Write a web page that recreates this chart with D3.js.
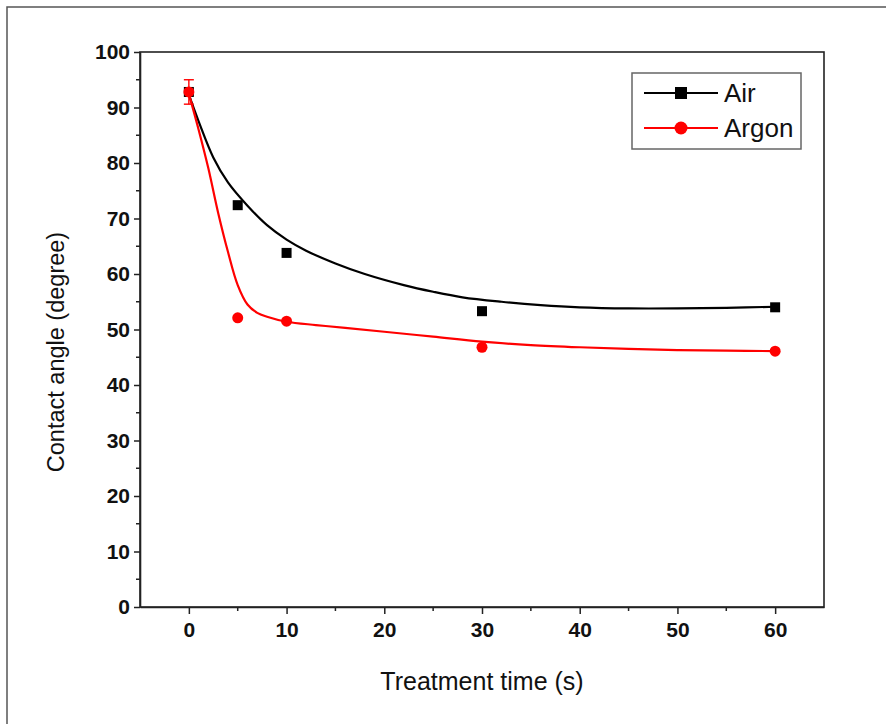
<!DOCTYPE html>
<html>
<head>
<meta charset="utf-8">
<script src="https://cdn.jsdelivr.net/npm/d3@7"></script>
<style>
  body { margin: 0; background: #fff; }
  svg { display: block; font-family: "Liberation Sans", Arial, sans-serif; }
</style>
</head>
<body>
<script>
// measured points
const times = [0, 5, 10, 30, 60]
const airAngle = [92.8, 72.4, 63.8, 53.3, 54.0]
const argonAngle = [92.8, 52.1, 51.5, 46.8, 46.1]
const argonErr = [2.2, 0, 0, 0, 0]

// fitted curves
const airFitX = [0, 1, 2.5, 4, 6, 8, 10, 12, 15, 18, 22, 25, 28, 32, 36, 40, 45, 50, 55, 60]
const airFitY = [92.3, 87.5, 81, 76.5, 72.3, 68.8, 66.2, 64.2, 61.9, 60.0, 58.0, 56.8, 55.8, 55.0, 54.4, 54.0, 53.8, 53.8, 53.9, 54.1]
const argonFitX = [0, 1, 2, 3, 4, 5, 6, 7, 8, 10, 13, 16, 20, 25, 30, 35, 40, 45, 50, 55, 60]
const argonFitY = [92.5, 86, 79, 71, 64, 58, 54.5, 53.0, 52.3, 51.4, 50.8, 50.3, 49.6, 48.7, 47.8, 47.2, 46.8, 46.5, 46.3, 46.2, 46.1]

const xTicks = [0, 10, 20, 30, 40, 50, 60]
const yTicks = [0, 10, 20, 30, 40, 50, 60, 70, 80, 90, 100]

const width = 886, height = 724
const plot = { left: 140, right: 824, top: 52, bottom: 607 }

const svg = d3.select('body').append('svg')
  .attr('width', width)
  .attr('height', height)

// outer frame (only left and top edges are visible)
svg.append('rect')
  .attr('x', 7).attr('y', 7)
  .attr('width', width + 10).attr('height', height + 10)
  .attr('fill', 'none')
  .attr('stroke', '#555')
  .attr('stroke-width', 1.5)

const x = d3.scaleLinear().domain([-5, 65]).range([plot.left, plot.right])
const y = d3.scaleLinear().domain([0, 100]).range([plot.bottom, plot.top])

// plot box
svg.append('rect')
  .attr('x', plot.left).attr('y', plot.top)
  .attr('width', plot.right - plot.left).attr('height', plot.bottom - plot.top)
  .attr('fill', 'none')
  .attr('stroke', '#222')
  .attr('stroke-width', 1.6)

// minor ticks
const tickGroup = svg.append('g').attr('stroke', '#222').attr('stroke-width', 1.5)
d3.range(5, 65, 10).forEach(v => {
  tickGroup.append('line')
    .attr('x1', x(v)).attr('x2', x(v))
    .attr('y1', plot.bottom).attr('y2', plot.bottom + 4)
})
d3.range(5, 100, 10).forEach(v => {
  tickGroup.append('line')
    .attr('x1', plot.left - 4).attr('x2', plot.left)
    .attr('y1', y(v)).attr('y2', y(v))
})

// major axes
const xAxis = svg.append('g')
  .attr('transform', `translate(0,${plot.bottom})`)
  .call(d3.axisBottom(x).tickValues(xTicks).tickSize(7).tickPadding(5).tickSizeOuter(0))
const yAxis = svg.append('g')
  .attr('transform', `translate(${plot.left},0)`)
  .call(d3.axisLeft(y).tickValues(yTicks).tickSize(6).tickPadding(4).tickSizeOuter(0))

for (const ax of [xAxis, yAxis]) {
  ax.select('.domain').attr('stroke', '#222').attr('stroke-width', 1.6)
  ax.selectAll('.tick line').attr('stroke', '#222').attr('stroke-width', 1.5)
  ax.selectAll('.tick text')
    .attr('fill', '#111')
    .style('font-size', '21px')
    .style('font-weight', 'bold')
    .style('font-family', '"Liberation Sans", Arial, sans-serif')
}
xAxis.selectAll('.tick text').attr('dy', '0.85em')

// axis titles
svg.append('text')
  .attr('x', 482)
  .attr('y', 690)
  .attr('text-anchor', 'middle')
  .attr('fill', '#111')
  .style('font-size', '25px')
  .text('Treatment time (s)')
svg.append('text')
  .attr('transform', 'translate(64,352) rotate(-90)')
  .attr('text-anchor', 'middle')
  .attr('fill', '#111')
  .style('font-size', '23.5px')
  .text('Contact angle (degree)')

// fit curves
const line = d3.line()
  .x(d => x(d[0]))
  .y(d => y(d[1]))
  .curve(d3.curveCatmullRom.alpha(0.5))

svg.append('path')
  .datum(d3.zip(airFitX, airFitY))
  .attr('d', line)
  .attr('fill', 'none')
  .attr('stroke', '#000')
  .attr('stroke-width', 2.2)
svg.append('path')
  .datum(d3.zip(argonFitX, argonFitY))
  .attr('d', line)
  .attr('fill', 'none')
  .attr('stroke', '#ff0000')
  .attr('stroke-width', 2.2)

// markers
const air = d3.zip(times, airAngle)
const argon = times.map((t, i) => ({ t: t, v: argonAngle[i], e: argonErr[i] }))

svg.append('g').selectAll('rect')
  .data(air)
  .join('rect')
  .attr('x', d => x(d[0]) - 5)
  .attr('y', d => y(d[1]) - 5)
  .attr('width', 10).attr('height', 10)
  .attr('fill', '#000')

// error bars
const err = svg.append('g').attr('stroke', '#ff0000').attr('stroke-width', 1.4)
argon.filter(d => d.e > 0).forEach(d => {
  err.append('line')
    .attr('x1', x(d.t)).attr('x2', x(d.t))
    .attr('y1', y(d.v - d.e)).attr('y2', y(d.v + d.e))
  ;[d.v - d.e, d.v + d.e].forEach(v => {
    err.append('line')
      .attr('x1', x(d.t) - 5).attr('x2', x(d.t) + 5)
      .attr('y1', y(v)).attr('y2', y(v))
  })
})

svg.append('g').selectAll('circle')
  .data(argon)
  .join('circle')
  .attr('cx', d => x(d.t))
  .attr('cy', d => y(d.v))
  .attr('r', 5.5)
  .attr('fill', '#ff0000')

// legend
const legend = svg.append('g')
legend.append('rect')
  .attr('x', 632).attr('y', 73)
  .attr('width', 169).attr('height', 76)
  .attr('fill', '#fff')
  .attr('stroke', '#666')
  .attr('stroke-width', 1.5)

const legendItems = [
  { name: 'Air', color: '#000', shape: 'square', cy: 93 },
  { name: 'Argon', color: '#ff0000', shape: 'circle', cy: 128 }
]
legendItems.forEach(item => {
  legend.append('line')
    .attr('x1', 644).attr('x2', 718)
    .attr('y1', item.cy).attr('y2', item.cy)
    .attr('stroke', item.color)
    .attr('stroke-width', 2.2)
  if (item.shape === 'square') {
    legend.append('rect')
      .attr('x', 681 - 6).attr('y', item.cy - 6)
      .attr('width', 12).attr('height', 12)
      .attr('fill', item.color)
  } else {
    legend.append('circle')
      .attr('cx', 681).attr('cy', item.cy)
      .attr('r', 6.5)
      .attr('fill', item.color)
  }
  legend.append('text')
    .attr('x', 724).attr('y', item.cy + 9)
    .attr('fill', '#111')
    .style('font-size', '26px')
    .text(item.name)
})
</script>
</body>
</html>
